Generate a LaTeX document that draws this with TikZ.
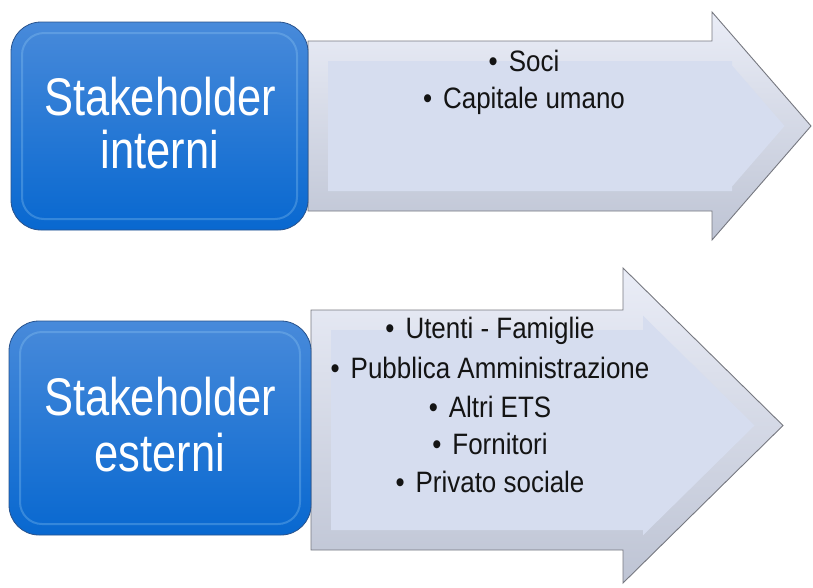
\documentclass[tikz,border=0pt]{standalone}
\usepackage{fontspec}
\newfontfamily\boxfont[FakeStretch=0.82]{Liberation Sans}
\newfontfamily\itemfont[FakeStretch=0.88]{Liberation Sans}

\definecolor{boxtop}{RGB}{72,138,218}
\definecolor{boxbot}{RGB}{8,104,208}
\definecolor{boxline}{RGB}{40,82,140}
\definecolor{boxglow}{RGB}{150,205,245}
\definecolor{arrowfill}{RGB}{214,221,239}
\definecolor{arrowedge}{RGB}{118,120,128}
\definecolor{bevellight}{RGB}{234,237,247}
\definecolor{beveldark}{RGB}{190,196,212}

\newcommand\bulletitem[1]{\textbullet\hspace{11pt}#1}

\tikzset{
  stakebox/.style={top color=boxtop, bottom color=boxbot, draw=boxline, line width=0.8pt, rounded corners=30pt},
  boxglint/.style={draw=boxglow, line width=2pt, rounded corners=22pt, opacity=0.3},
  arrowouter/.style={top color=bevellight, bottom color=beveldark, draw=arrowedge, line width=0.9pt},
  arrowinner/.style={fill=arrowfill},
  boxtext/.style={text=white, font=\boxfont\fontsize{53}{53}\selectfont, anchor=base},
  itemtext/.style={text=black!92, font=\itemfont\fontsize{29.5}{29.5}\selectfont, anchor=base},
}

\begin{document}
\begin{tikzpicture}[x=1pt,y=-1pt]
\useasboundingbox (0,0) rectangle (813,587);

% arrow of the internal stakeholders
\path[arrowouter] (308,41) -- (712,41) -- (712,12) -- (811,126) -- (712,240) -- (712,211) -- (308,211) -- cycle;
\path[arrowinner] (328,61) -- (732,61) -- (732,65.5) -- (784.5,126) -- (732,186.5) -- (732,191) -- (328,191) -- cycle;

% arrow of the external stakeholders
\path[arrowouter] (311,310) -- (623,310) -- (623,268) -- (783,425.5) -- (623,583) -- (623,550) -- (311,550) -- cycle;
\path[arrowinner] (331,330) -- (643,330) -- (643,315.75) -- (754.5,425.5) -- (643,535.25) -- (643,530) -- (331,530) -- cycle;

% blue boxes
\path[stakebox] (11,22) rectangle (308,230);
\path[boxglint] (22,33) rectangle (297,219);
\path[stakebox] (9,321) rectangle (311,535);
\path[boxglint] (20,332) rectangle (300,524);

\node[boxtext] (intA) at (160,115) {Stakeholder};
\node[boxtext] (intB) at (160,168) {interni};
\node[boxtext] (estA) at (160,415) {Stakeholder};
\node[boxtext] (estB) at (160,471) {esterni};

\node[itemtext] (soci) at (524,71.7) {\bulletitem{Soci}};
\node[itemtext] (capitale) at (524,108) {\bulletitem{Capitale umano}};
\node[itemtext] (utenti) at (490,338) {\bulletitem{Utenti - Famiglie}};
\node[itemtext] (pa) at (490,378) {\bulletitem{Pubblica Amministrazione}};
\node[itemtext] (ets) at (490,417) {\bulletitem{Altri ETS}};
\node[itemtext] (fornitori) at (490,454) {\bulletitem{Fornitori}};
\node[itemtext] (privato) at (490,492) {\bulletitem{Privato sociale}};

\end{tikzpicture}
\end{document}
